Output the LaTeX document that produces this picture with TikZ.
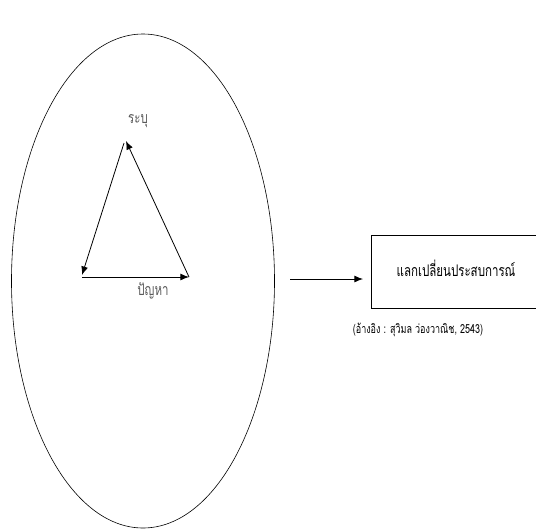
\documentclass[tikz,border=0pt]{standalone}
\usepackage{fontspec}
\newfontfamily\thaifont[Script=Thai,FakeStretch=0.72]{Loma}
\usetikzlibrary{arrows.meta,shapes.geometric}
\tikzset{flow/.style={-{Latex[length=3mm,width=2.4mm]},line width=0.8pt},
  thaitext/.style={font=\thaifont\fontsize{16}{18}\selectfont}}

\begin{document}
\begin{tikzpicture}[x=1pt,y=-1pt]
  \useasboundingbox (0,0) rectangle (536,528);
  \node[draw,ellipse,line width=0.6pt,minimum width=263pt,minimum height=494pt,inner sep=0pt] (ring) at (143,281) {};
  \coordinate (top) at (126,141);
  \coordinate (topl) at (124,143);
  \coordinate (left) at (82,275);
  \coordinate (right) at (189,277);
  \coordinate (botl) at (82,277);
  \draw[flow] (topl) -- (left);
  \draw[flow] (right) -- (top);
  \draw[flow] (botl) -- (right);
  \node[thaitext,text=black!65] (identify) at (138,121) {ระบุ};
  \node[thaitext,text=black!65] (problem) at (153,291) {ปัญหา};
  \node[draw,thick,minimum width=168pt,minimum height=73pt,anchor=west] (share) at (371,272) {};
  \node[thaitext] at (456,268) {แลกเปลี่ยนประสบการณ์};
  \coordinate (start) at (290,279);
  \coordinate (stop) at (363,279);
  \draw[flow] (start) -- (stop);
  \node[font=\thaifont\fontsize{12.5}{14}\selectfont] (cite) at (418,330) {(อ้างอิง : สุวิมล ว่องวาณิช, 2543)};
\end{tikzpicture}
\end{document}
